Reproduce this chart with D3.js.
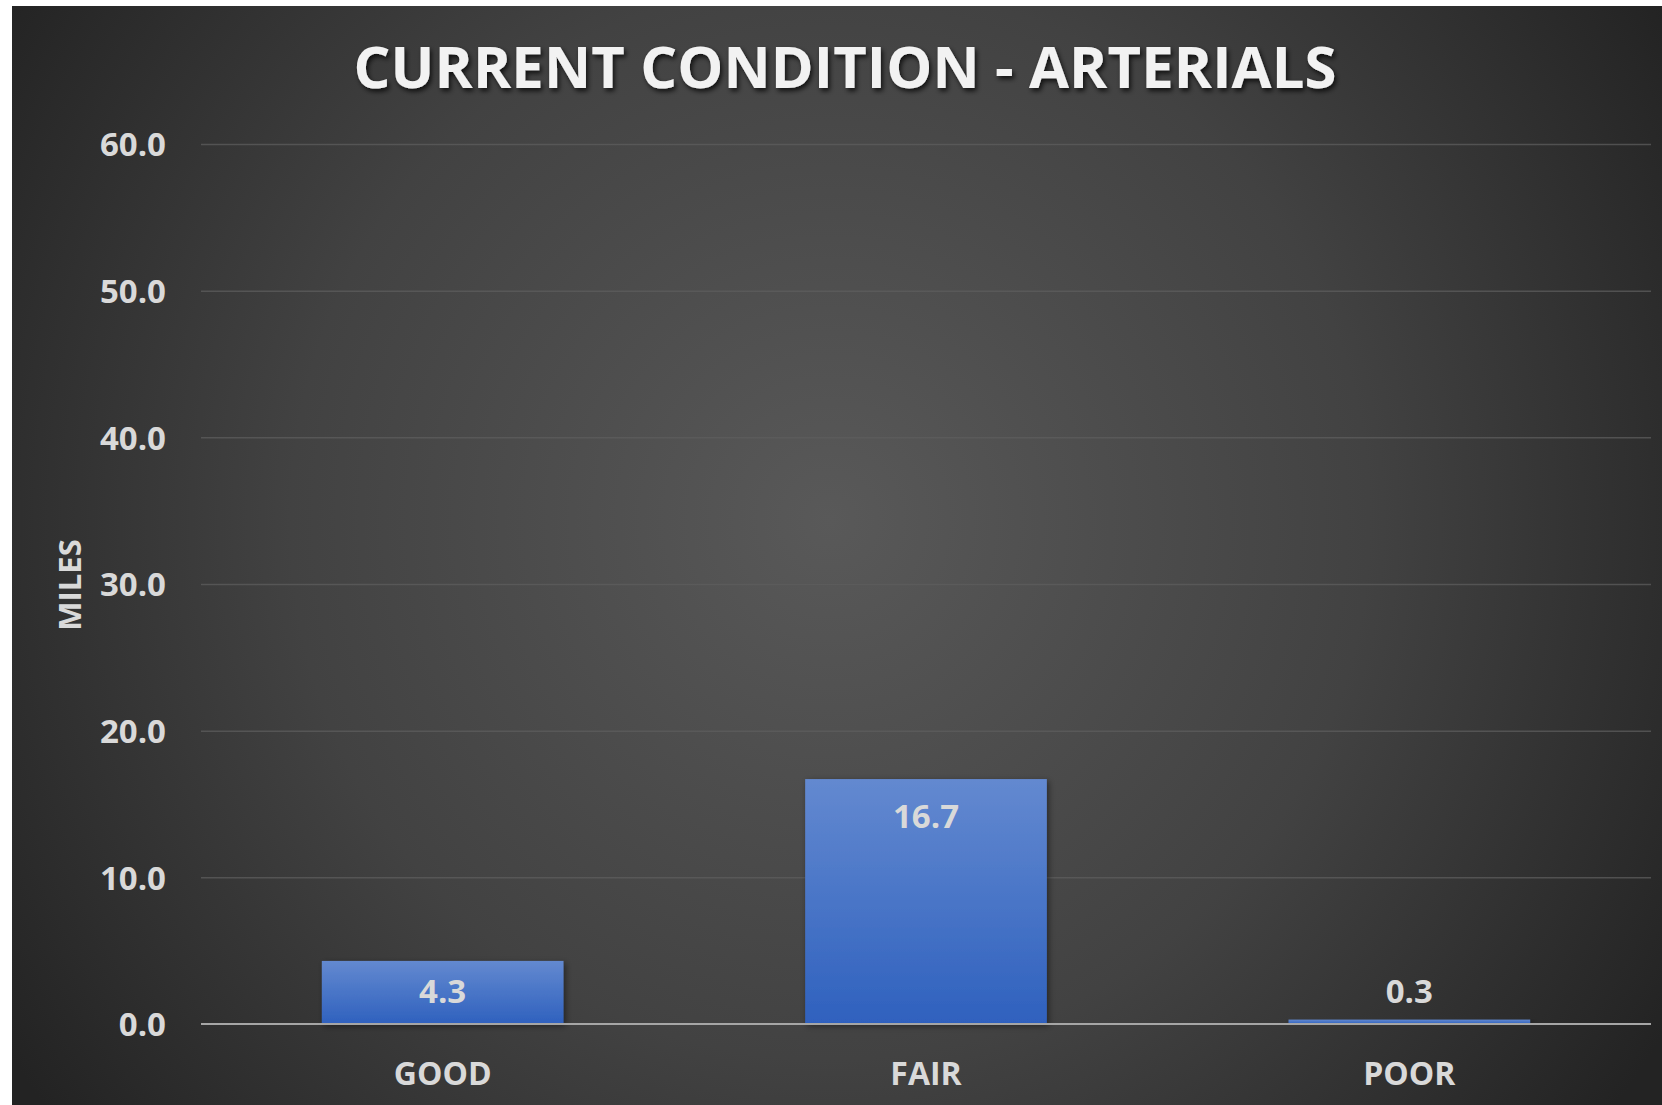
<!DOCTYPE html>
<html>
<head>
<meta charset="utf-8">
<script src="https://cdn.jsdelivr.net/npm/d3@7"></script>
<style>
  html, body { margin: 0; padding: 0; background: #ffffff; }
  svg { display: block; }
  text { font-family: "Open Sans", "DejaVu Sans", sans-serif; font-weight: 700; }
</style>
</head>
<body>
<svg id="chart" width="1662" height="1105"></svg>
<script>
// Pavement condition of arterial streets, in miles
const categories = ["GOOD", "FAIR", "POOR"];
const miles = [4.3, 16.7, 0.3];
const yTicks = [0, 10, 20, 30, 40, 50, 60];
const chartTitle = "CURRENT CONDITION - ARTERIALS";
const yAxisTitle = "MILES";

const W = 1662, H = 1105;
const plot = { left: 201, right: 1651, top: 144, bottom: 1024 };

const svg = d3.select("#chart");
const defs = svg.append("defs");

// dark radial backdrop
const bg = defs.append("radialGradient")
  .attr("id", "bgGrad")
  .attr("gradientUnits", "userSpaceOnUse")
  .attr("cx", 830).attr("cy", 520).attr("r", 980);
bg.append("stop").attr("offset", "0").attr("stop-color", "#595959");
bg.append("stop").attr("offset", "0.55").attr("stop-color", "#424242");
bg.append("stop").attr("offset", "1").attr("stop-color", "#232323");

// vertical bar fill
const barGrad = defs.append("linearGradient")
  .attr("id", "barGrad").attr("x1", 0).attr("y1", 0).attr("x2", 0).attr("y2", 1);
barGrad.append("stop").attr("offset", "0").attr("stop-color", "#6389d0");
barGrad.append("stop").attr("offset", "1").attr("stop-color", "#2f61be");

const shadow = defs.append("filter").attr("id", "textShadow")
  .attr("x", "-10%").attr("y", "-30%").attr("width", "120%").attr("height", "160%");
shadow.append("feDropShadow").attr("dx", 2).attr("dy", 3).attr("stdDeviation", 2.5)
  .attr("flood-color", "#000").attr("flood-opacity", 0.75);

const barShadow = defs.append("filter").attr("id", "barShadow")
  .attr("x", "-10%").attr("y", "-10%").attr("width", "125%").attr("height", "130%");
barShadow.append("feDropShadow").attr("dx", 2).attr("dy", 2).attr("stdDeviation", 3)
  .attr("flood-color", "#000").attr("flood-opacity", 0.45);

svg.append("rect")
  .attr("x", 12).attr("y", 6).attr("width", W - 12).attr("height", H - 6)
  .attr("fill", "url(#bgGrad)");

const x = d3.scaleBand()
  .domain(categories)
  .range([plot.left, plot.right])
  .paddingInner(0.5)
  .paddingOuter(0.25);

const y = d3.scaleLinear()
  .domain([0, 60])
  .range([plot.bottom, plot.top]);

// gridlines
const grid = svg.append("g")
  .attr("transform", `translate(${plot.left},0)`)
  .call(d3.axisLeft(y).tickValues(yTicks).tickSize(-(plot.right - plot.left)).tickFormat(""));
grid.select(".domain").remove();
grid.selectAll(".tick line")
  .attr("stroke", "#5e5e5e")
  .attr("stroke-opacity", 0.75)
  .attr("stroke-width", 1.5);
grid.selectAll(".tick").filter(d => d === 0).remove();

// y tick labels
const yAxis = svg.append("g")
  .attr("transform", `translate(166,0)`)
  .call(d3.axisLeft(y).tickValues(yTicks).tickSize(0).tickPadding(0).tickFormat(d3.format(".1f")));
yAxis.select(".domain").remove();
yAxis.selectAll("text")
  .attr("fill", "#d9d9d9")
  .style("font-size", "33px")
  .attr("dy", "0.36em");

// bars
svg.append("g").selectAll("rect")
  .data(categories)
  .join("rect")
  .attr("x", d => x(d))
  .attr("width", x.bandwidth())
  .attr("y", (d, i) => y(miles[i]))
  .attr("height", (d, i) => y(0) - y(miles[i]))
  .attr("fill", "url(#barGrad)")
  .attr("filter", "url(#barShadow)");

// zero baseline
svg.append("line")
  .attr("x1", plot.left).attr("x2", plot.right)
  .attr("y1", y(0)).attr("y2", y(0))
  .attr("stroke", "#a6a6a6").attr("stroke-width", 2);

// value labels near the top end of each bar
svg.append("g").selectAll("text")
  .data(categories)
  .join("text")
  .attr("x", d => x(d) + x.bandwidth() / 2)
  .attr("y", (d, i) => Math.min(y(miles[i]) + 37, y(0) - 33))
  .attr("dy", "0.36em")
  .attr("text-anchor", "middle")
  .attr("fill", "#d9d9d9")
  .style("font-size", "33px")
  .text((d, i) => d3.format(".1f")(miles[i]));

// category axis
const xAxis = svg.append("g")
  .attr("transform", `translate(0,${plot.bottom})`)
  .call(d3.axisBottom(x).tickSize(0).tickPadding(0));
xAxis.select(".domain").remove();
xAxis.selectAll("text")
  .attr("fill", "#d9d9d9")
  .style("font-size", "32px")
  .attr("y", 49)
  .attr("dy", "0.36em");

// y axis title
svg.append("text")
  .attr("transform", "translate(70,585) rotate(-90)")
  .attr("text-anchor", "middle")
  .attr("dy", "0.36em")
  .attr("fill", "#d9d9d9")
  .style("font-size", "31px")
  .text(yAxisTitle);

// chart title
svg.append("text")
  .attr("x", 845)
  .attr("y", 88)
  .attr("text-anchor", "middle")
  .attr("fill", "#f2f2f2")
  .attr("filter", "url(#textShadow)")
  .style("font-size", "58px")
  .attr("textLength", 983)
  .attr("lengthAdjust", "spacing")
  .text(chartTitle);
</script>
</body>
</html>
